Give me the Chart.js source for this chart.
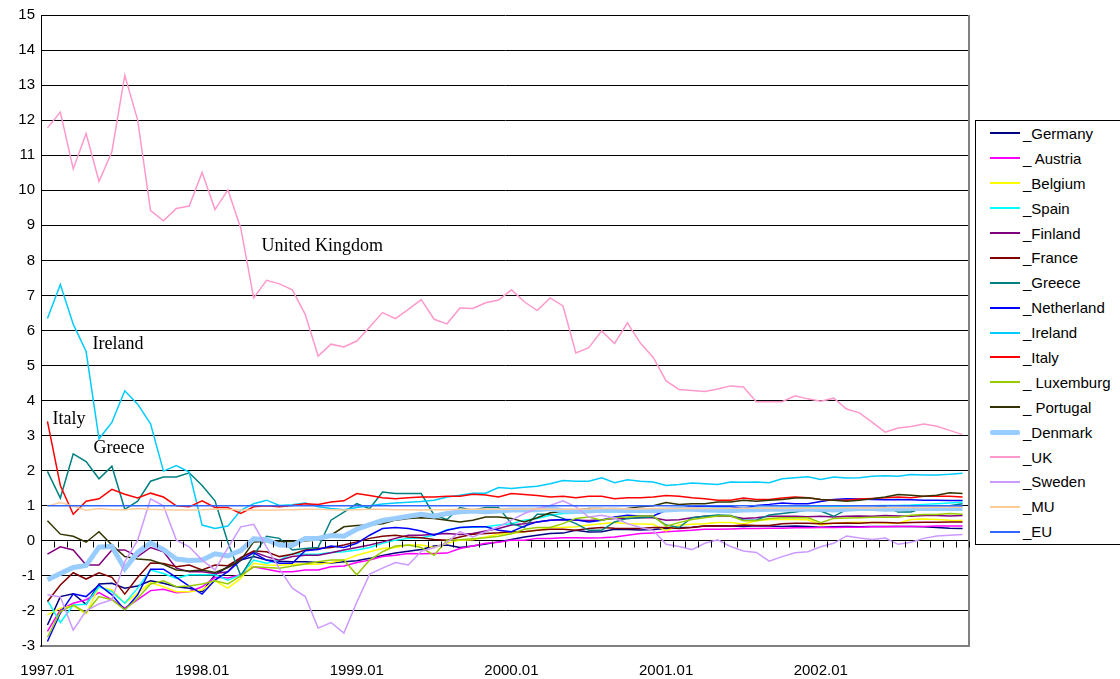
<!DOCTYPE html>
<html>
<head>
<meta charset="utf-8">
<script src="https://cdn.jsdelivr.net/npm/chart.js@4.4.1/dist/chart.umd.min.js"></script>
<style>
    body { margin: 0; background: #fff; overflow: hidden; }
    #wrap { position: relative; width: 1120px; height: 679px; }
    #legend {
        position: absolute; left: 975px; top: 120px; width: 170px; height: 425px;
        border: 1px solid #000; box-sizing: border-box; background: #fff;
        font: 15px "Liberation Sans", Arial, sans-serif; color: #000;
    }
    .item { display: flex; align-items: center; height: 24.9px; white-space: pre; }
    .swatch { width: 30px; margin-left: 14px; margin-right: 3px; }
</style>
</head>
<body>
<div id="wrap">
    <canvas id="chart" width="1120" height="679"></canvas>
    <div id="legend"></div>
</div>
<script>
const years = ['1997', '1998', '1999', '2000', '2001', '2002'];
const months = ['01', '02', '03', '04', '05', '06', '07', '08', '09', '10', '11', '12'];

const names = ['_Germany', '_ Austria', '_Belgium', '_Spain', '_Finland', '_France', '_Greece',
    '_Netherland', '_Ireland', '_Italy', '_ Luxemburg', '_ Portugal', '_Denmark', '_UK',
    '_Sweden', '_MU', '_EU'];

const germany = [
    -2.40, -1.59, -1.51, -1.81, -1.23, -1.21, -1.35, -1.29, -1.14, -1.21, -1.31, -1.35,
    -1.45, -0.97, -0.74, -0.55, -0.45, -0.55, -0.58, -0.60, -0.60, -0.62, -0.63, -0.60,
    -0.57, -0.50, -0.42, -0.35, -0.30, -0.25, -0.15, -0.12, -0.19, -0.15, -0.09, -0.03,
    0.04, 0.11, 0.16, 0.21, 0.22, 0.30, 0.25, 0.26, 0.33, 0.32, 0.31, 0.32,
    0.35, 0.37, 0.39, 0.42, 0.43, 0.42, 0.41, 0.43, 0.42, 0.41, 0.42, 0.41,
    0.39, 0.40, 0.41, 0.40, 0.41, 0.41, 0.41, 0.41, 0.40, 0.38, 0.36, 0.35];
const austria = [
    -2.58, -1.97, -1.78, -1.68, -1.48, -1.68, -1.92, -1.68, -1.42, -1.38, -1.48, -1.45,
    -1.31, -1.04, -1.06, -0.97, -0.74, -0.81, -0.88, -0.88, -0.83, -0.83, -0.74, -0.72,
    -0.62, -0.55, -0.45, -0.41, -0.36, -0.37, -0.36, -0.35, -0.22, -0.15, -0.07, -0.04,
    0.02, 0.02, 0.07, 0.07, 0.09, 0.09, 0.08, 0.09, 0.11, 0.16, 0.21, 0.22,
    0.26, 0.28, 0.30, 0.33, 0.33, 0.34, 0.35, 0.35, 0.36, 0.36, 0.37, 0.37,
    0.38, 0.38, 0.39, 0.39, 0.40, 0.40, 0.41, 0.41, 0.41, 0.42, 0.42, 0.42];
const belgium = [
    -2.11, -1.92, -1.85, -2.08, -1.31, -1.40, -1.78, -1.49, -1.19, -1.31, -1.45, -1.45,
    -1.40, -1.14, -1.35, -1.07, -0.64, -0.69, -0.70, -0.67, -0.66, -0.67, -0.62, -0.55,
    -0.41, -0.31, -0.22, -0.19, -0.12, -0.12, -0.19, -0.07, 0.02, 0.03, 0.11, 0.19,
    0.21, 0.26, 0.30, 0.38, 0.38, 0.40, 0.45, 0.49, 0.52, 0.49, 0.48, 0.47,
    0.28, 0.45, 0.47, 0.49, 0.52, 0.52, 0.48, 0.57, 0.61, 0.61, 0.61, 0.60,
    0.45, 0.50, 0.52, 0.53, 0.52, 0.51, 0.50, 0.61, 0.62, 0.61, 0.59, 0.58];
const spain = [
    -1.70, -2.33, -1.83, -1.81, -1.31, -1.45, -1.78, -1.35, -0.83, -0.93, -1.07, -0.97,
    -0.97, -0.97, -1.12, -0.97, -0.55, -0.64, -0.55, -0.36, -0.38, -0.38, -0.33, -0.31,
    -0.26, -0.19, -0.07, 0.02, 0.07, 0.09, 0.16, 0.32, 0.38, 0.39, 0.40, 0.45,
    0.49, 0.59, 0.64, 0.73, 0.78, 0.79, 0.83, 0.83, 0.83, 0.83, 0.85, 0.87,
    0.86, 0.87, 0.92, 0.92, 0.93, 0.93, 0.94, 0.95, 0.95, 0.96, 0.96, 0.97,
    0.97, 0.98, 0.98, 0.99, 1.00, 1.01, 1.01, 1.02, 1.04, 1.06, 1.08, 1.10];
const finland = [
    -0.38, -0.17, -0.26, -0.69, -0.69, -0.26, -0.26, -0.45, -0.19, -0.31, -0.78, -0.88,
    -0.88, -0.93, -0.88, -0.48, -0.31, -0.45, -0.55, -0.45, -0.41, -0.41, -0.34, -0.26,
    -0.19, -0.12, -0.03, 0.07, 0.16, 0.16, 0.19, 0.21, 0.18, 0.21, 0.28, 0.35,
    0.45, 0.49, 0.54, 0.59, 0.60, 0.59, 0.58, 0.60, 0.64, 0.64, 0.66, 0.66,
    0.59, 0.60, 0.66, 0.70, 0.71, 0.70, 0.64, 0.66, 0.70, 0.70, 0.70, 0.69,
    0.70, 0.68, 0.70, 0.71, 0.70, 0.72, 0.71, 0.70, 0.72, 0.72, 0.71, 0.72];
const france = [
    -1.73, -1.26, -0.91, -1.09, -0.91, -1.04, -1.52, -1.04, -0.63, -0.65, -0.74, -0.69,
    -0.83, -0.69, -0.71, -0.48, -0.29, -0.31, -0.45, -0.38, -0.26, -0.22, -0.19, -0.12,
    -0.03, 0.07, 0.13, 0.16, 0.11, 0.09, 0.04, 0.02, 0.11, 0.19, 0.21, 0.23,
    0.26, 0.26, 0.30, 0.33, 0.33, 0.30, 0.35, 0.38, 0.36, 0.35, 0.35, 0.38,
    0.38, 0.35, 0.38, 0.42, 0.43, 0.42, 0.45, 0.44, 0.44, 0.49, 0.50, 0.50,
    0.49, 0.50, 0.51, 0.50, 0.52, 0.52, 0.51, 0.52, 0.53, 0.53, 0.54, 0.54];
const greece = [
    1.98, 1.22, 2.48, 2.26, 1.77, 2.13, 0.90, 1.13, 1.70, 1.82, 1.82, 1.94,
    1.58, 1.14, -0.05, -1.00, -0.41, 0.13, 0.07, -0.26, -0.22, -0.19, 0.59, 0.82,
    1.06, 0.92, 1.39, 1.35, 1.35, 1.35, 0.73, 0.61, 0.95, 0.87, 0.95, 0.95,
    0.49, 0.38, 0.76, 0.76, 0.64, 0.49, 0.30, 0.30, 0.54, 0.64, 0.66, 0.69,
    0.45, 0.38, 0.66, 0.70, 0.74, 0.72, 0.59, 0.59, 0.74, 0.78, 0.82, 0.88,
    0.85, 0.70, 0.89, 0.95, 0.97, 0.97, 0.82, 0.82, 0.94, 0.99, 1.00, 1.06];
const netherland = [
    -2.87, -2.06, -1.51, -1.59, -1.26, -1.54, -1.97, -1.54, -0.81, -0.81, -1.04, -1.29,
    -1.52, -1.12, -0.88, -0.55, -0.34, -0.55, -0.64, -0.64, -0.28, -0.25, -0.15, -0.19,
    -0.07, 0.16, 0.35, 0.38, 0.35, 0.28, 0.16, 0.30, 0.38, 0.40, 0.40, 0.30,
    0.26, 0.42, 0.54, 0.59, 0.61, 0.60, 0.54, 0.59, 0.68, 0.73, 0.71, 0.71,
    0.87, 0.92, 0.99, 0.99, 0.98, 0.98, 0.92, 1.01, 1.04, 1.08, 1.06, 1.06,
    1.12, 1.18, 1.20, 1.19, 1.18, 1.17, 1.18, 1.17, 1.16, 1.16, 1.15, 1.15];
const ireland = [
    6.34, 7.31, 6.18, 5.40, 2.91, 3.38, 4.28, 3.90, 3.34, 1.99, 2.15, 1.96,
    0.45, 0.35, 0.42, 0.87, 1.06, 1.16, 1.01, 1.03, 1.08, 0.97, 0.92, 0.89,
    0.95, 1.00, 1.05, 1.08, 1.10, 1.12, 1.16, 1.25, 1.30, 1.36, 1.36, 1.52,
    1.49, 1.53, 1.56, 1.63, 1.72, 1.70, 1.70, 1.80, 1.66, 1.74, 1.70, 1.68,
    1.58, 1.61, 1.65, 1.63, 1.61, 1.68, 1.67, 1.68, 1.66, 1.77, 1.80, 1.83,
    1.75, 1.82, 1.79, 1.80, 1.84, 1.86, 1.84, 1.89, 1.88, 1.88, 1.90, 1.93];
const italy = [
    3.41, 1.58, 0.76, 1.13, 1.20, 1.47, 1.33, 1.22, 1.36, 1.25, 1.00, 0.97,
    1.14, 0.95, 0.95, 0.78, 0.97, 1.00, 0.97, 1.01, 1.06, 1.04, 1.11, 1.14,
    1.35, 1.29, 1.23, 1.20, 1.23, 1.25, 1.25, 1.27, 1.27, 1.33, 1.31, 1.25,
    1.35, 1.32, 1.29, 1.25, 1.27, 1.23, 1.27, 1.27, 1.20, 1.23, 1.23, 1.25,
    1.29, 1.27, 1.23, 1.20, 1.16, 1.16, 1.22, 1.18, 1.18, 1.22, 1.25, 1.23,
    1.18, 1.16, 1.16, 1.19, 1.21, 1.23, 1.25, 1.23, 1.27, 1.27, 1.27, 1.25];
const luxemburg = [
    -2.75, -2.02, -1.83, -2.05, -1.59, -1.68, -1.97, -1.64, -1.23, -1.14, -1.31, -1.29,
    -1.23, -1.14, -1.23, -1.00, -0.74, -0.76, -0.78, -0.72, -0.66, -0.60, -0.55, -0.55,
    -0.97, -0.55, -0.31, -0.15, -0.12, -0.19, -0.41, 0.02, 0.03, 0.06, 0.09, 0.13,
    0.20, 0.33, 0.38, 0.38, 0.49, 0.64, 0.68, 0.59, 0.66, 0.68, 0.71, 0.71,
    0.42, 0.52, 0.61, 0.66, 0.71, 0.71, 0.57, 0.57, 0.64, 0.66, 0.66, 0.66,
    0.52, 0.64, 0.65, 0.66, 0.67, 0.67, 0.67, 0.73, 0.75, 0.75, 0.78, 0.76];
const portugal = [
    0.57, 0.19, 0.13, -0.04, 0.26, -0.12, -0.45, -0.52, -0.55, -0.67, -0.83, -0.86,
    -0.83, -0.90, -0.76, -0.55, -0.03, -0.01, -0.02, -0.02, 0.00, 0.02, 0.16, 0.40,
    0.44, 0.45, 0.49, 0.59, 0.64, 0.66, 0.64, 0.59, 0.54, 0.59, 0.68, 0.68,
    0.64, 0.54, 0.66, 0.80, 0.84, 0.87, 0.92, 0.92, 0.85, 0.92, 0.97, 1.00,
    1.09, 1.04, 1.06, 1.06, 1.11, 1.11, 1.16, 1.13, 1.16, 1.18, 1.22, 1.23,
    1.18, 1.16, 1.13, 1.16, 1.20, 1.25, 1.32, 1.30, 1.27, 1.30, 1.37, 1.35];
const denmark = [
    -1.11, -0.93, -0.76, -0.70, -0.18, -0.16, -0.80, -0.33, -0.06, -0.25, -0.52, -0.56,
    -0.55, -0.37, -0.43, -0.28, 0.06, 0.03, -0.12, -0.13, 0.07, 0.07, 0.15, 0.13,
    0.33, 0.46, 0.58, 0.64, 0.70, 0.76, 0.70, 0.78, 0.83, 0.85, 0.83, 0.85,
    0.88, 0.88, 0.89, 0.92, 0.86, 0.84, 0.85, 0.87, 0.88, 0.86, 0.87, 0.86,
    0.88, 0.90, 0.90, 0.88, 0.87, 0.86, 0.88, 0.89, 0.90, 0.91, 0.90, 0.90,
    0.90, 0.88, 0.90, 0.92, 0.92, 0.90, 0.91, 0.93, 0.92, 0.92, 0.92, 0.92];
const uk = [
    11.78, 12.23, 10.61, 11.62, 10.25, 11.10, 13.28, 12.00, 9.42, 9.13, 9.48, 9.55,
    10.51, 9.45, 10.01, 8.92, 6.93, 7.43, 7.33, 7.16, 6.46, 5.27, 5.61, 5.53,
    5.70, 6.10, 6.51, 6.34, 6.60, 6.88, 6.32, 6.19, 6.64, 6.63, 6.79, 6.87,
    7.16, 6.82, 6.57, 6.93, 6.70, 5.36, 5.51, 5.99, 5.63, 6.22, 5.64, 5.23,
    4.56, 4.32, 4.29, 4.26, 4.33, 4.42, 4.39, 3.97, 3.97, 3.97, 4.14, 4.05,
    3.98, 4.07, 3.76, 3.65, 3.38, 3.10, 3.22, 3.26, 3.33, 3.27, 3.15, 3.03];
const sweden = [
    -1.54, -1.60, -2.55, -2.00, -1.80, -1.68, -0.60, 0.02, 1.20, 1.00, 0.02, -0.17,
    -0.55, -0.83, -0.20, 0.40, 0.47, -0.18, -0.80, -1.35, -1.59, -2.49, -2.33, -2.63,
    -1.75, -0.95, -0.78, -0.62, -0.69, -0.30, -0.20, -0.05, 0.26, 0.11, 0.26, 0.40,
    0.59, 0.78, 0.92, 1.01, 1.14, 0.97, 0.68, 0.73, 0.65, 0.49, 0.38, 0.30,
    -0.10, -0.16, -0.25, -0.07, 0.03, -0.16, -0.29, -0.33, -0.58, -0.45, -0.34, -0.31,
    -0.17, -0.07, 0.14, 0.08, 0.04, 0.08, -0.10, -0.04, 0.07, 0.14, 0.16, 0.18];
const mu = [
    0.99, 1.09, 0.99, 0.87, 0.92, 0.89, 0.89, 0.92, 0.90, 0.89, 0.88, 0.88,
    0.89, 0.91, 0.90, 0.88, 0.88, 0.87, 0.88, 0.89, 0.90, 0.90, 0.89, 0.88,
    0.89, 0.90, 0.90, 0.89, 0.89, 0.88, 0.89, 0.89, 0.90, 0.90, 0.91, 0.90,
    0.90, 0.91, 0.91, 0.90, 0.90, 0.91, 0.91, 0.92, 0.92, 0.91, 0.91, 0.92,
    0.92, 0.92, 0.93, 0.92, 0.92, 0.93, 0.93, 0.93, 0.94, 0.93, 0.93, 0.94,
    0.94, 0.94, 0.95, 0.94, 0.94, 0.95, 0.95, 0.95, 0.95, 0.96, 0.96, 0.96];
const eu = [
    1, 1, 1, 1, 1, 1, 1, 1, 1, 1, 1, 1,
    1, 1, 1, 1, 1, 1, 1, 1, 1, 1, 1, 1,
    1, 1, 1, 1, 1, 1, 1, 1, 1, 1, 1, 1,
    1, 1, 1, 1, 1, 1, 1, 1, 1, 1, 1, 1,
    1, 1, 1, 1, 1, 1, 1, 1, 1, 1, 1, 1,
    1, 1, 1, 1, 1, 1, 1, 1, 1, 1, 1, 1];

const series = [germany, austria, belgium, spain, finland, france, greece, netherland,
    ireland, italy, luxemburg, portugal, denmark, uk, sweden, mu, eu];

// text written on the plot, placed in axis units
const notes = [
    { text: 'United Kingdom', x: 16.6, y: 8.4 },
    { text: 'Ireland', x: 3.5, y: 5.6 },
    { text: 'Italy', x: 0.4, y: 3.46 },
    { text: 'Greece', x: 3.57, y: 2.63 }
];

const colors = ['#000080', '#FF00FF', '#FFFF00', '#00FFFF', '#800080', '#800000', '#008080',
    '#0000FF', '#00CCFF', '#FF0000', '#99CC00', '#333300', '#99CCFF', '#FF99CC',
    '#CC99FF', '#FFCC99', '#3366FF'];
const widths = names.map(n => n === '_Denmark' ? 5 : 1.5);

const labels = [];
years.forEach(y => months.forEach(m => labels.push(y + '.' + m)));

const font = { family: '"Liberation Sans", Arial, sans-serif', size: 15 };

const notePlugin = {
    id: 'notes',
    afterDatasetsDraw(chart) {
        const { ctx, scales: { x, y } } = chart;
        ctx.save();
        ctx.font = '18px "Liberation Serif", "Times New Roman", serif';
        ctx.fillStyle = '#000';
        ctx.textBaseline = 'middle';
        notes.forEach(n => ctx.fillText(n.text, x.getPixelForValue(n.x), y.getPixelForValue(n.y)));
        ctx.restore();
    }
};

// right frame edge, and the small tick marks hanging under the zero line
const framePlugin = {
    id: 'frame',
    afterDraw(chart) {
        const { ctx, chartArea: a, scales: { x, y } } = chart;
        ctx.save();
        ctx.strokeStyle = '#808080';
        ctx.lineWidth = 2;
        ctx.beginPath();
        ctx.moveTo(a.right, a.top);
        ctx.lineTo(a.right, a.bottom + 1);
        ctx.stroke();

        const y0 = Math.round(y.getPixelForValue(0)) + 0.5;
        ctx.strokeStyle = '#000';
        ctx.lineWidth = 1;
        ctx.beginPath();
        for (let i = 0; i <= labels.length; i++) {
            const px = Math.round(x.getPixelForValue(i - 0.5)) + 0.5;
            ctx.moveTo(px, y0);
            ctx.lineTo(px, y0 + 6);
        }
        ctx.stroke();
        ctx.restore();
    }
};

const ctx = document.getElementById('chart').getContext('2d');
new Chart(ctx, {
    type: 'line',
    data: {
        labels: labels,
        datasets: series.map((data, i) => ({
            label: names[i],
            data: data,
            borderColor: colors[i],
            backgroundColor: colors[i],
            borderWidth: widths[i],
            pointRadius: 0,
            tension: 0,
            fill: false,
            order: series.length - i
        }))
    },
    options: {
        responsive: false,
        animation: false,
        devicePixelRatio: 1,
        layout: { padding: { top: 13, right: 151, bottom: 0, left: 0 } },
        plugins: { legend: { display: false }, tooltip: { enabled: false } },
        scales: {
            x: {
                type: 'category',
                offset: true,
                grid: { display: false },
                border: { display: true, color: '#808080', width: 2 },
                ticks: {
                    autoSkip: false, maxRotation: 0, padding: 8, color: '#000', font: font,
                    callback: (v, i) => i % 12 === 0 ? labels[i] : null
                },
                afterFit: s => { s.height = 33; }
            },
            y: {
                min: -3,
                max: 15,
                ticks: { stepSize: 1, padding: 6, color: '#000', font: font },
                grid: { color: '#000', drawTicks: false },
                border: { display: true, color: '#000', width: 1 },
                afterFit: s => { s.width = 41; }
            }
        }
    },
    plugins: [notePlugin, framePlugin]
});

// legend box on the right, built from the same names and styles
const legend = document.getElementById('legend');
names.forEach((n, i) => {
    const row = document.createElement('div');
    row.className = 'item';
    const sw = document.createElement('div');
    sw.className = 'swatch';
    sw.style.height = (i === 12 ? 5 : 2) + 'px';
    sw.style.background = colors[i];
    sw.style.borderRadius = i === 12 ? '2px' : '0';
    const tx = document.createElement('span');
    tx.textContent = n;
    row.appendChild(sw);
    row.appendChild(tx);
    legend.appendChild(row);
});
</script>
</body>
</html>
